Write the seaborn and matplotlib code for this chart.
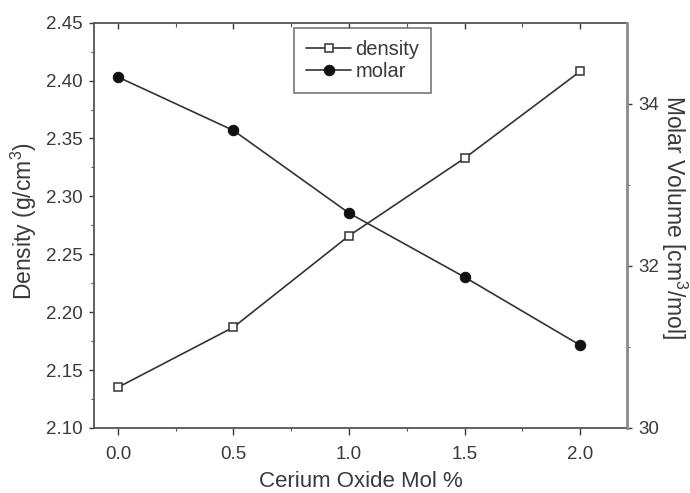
import matplotlib
matplotlib.use("Agg")
import matplotlib.pyplot as plt
import seaborn as sns
import pandas as pd
from matplotlib.ticker import MultipleLocator, FixedLocator

sns.set_theme(style="white")
plt.rcParams['font.family'] = ['Liberation Sans', 'DejaVu Sans']
plt.rcParams['mathtext.default'] = 'regular'

# Data
ceo2_mol = [0.0, 0.5, 1.0, 1.5, 2.0]
density = [2.135, 2.187, 2.266, 2.333, 2.408]
molar_volume = [34.33, 33.67, 32.65, 31.86, 31.02]

x_label = "Cerium Oxide Mol %"
y_left_label = "Density (g/cm$^3$)"
y_right_label = "Molar Volume [cm$^3$/mol]"

df = pd.DataFrame({"x": ceo2_mol, "density": density, "molar": molar_volume})

text_c = "#3a3a3a"
line_c = "#333333"

fig = plt.figure(figsize=(6.9, 4.93), dpi=100)
ax = fig.add_axes([0.136, 0.132, 0.773, 0.822])
ax2 = ax.twinx()

sns.lineplot(data=df, x="x", y="density", ax=ax, color=line_c, lw=1.2,
             marker="s", markersize=6, markerfacecolor="white",
             markeredgecolor=line_c, markeredgewidth=1.1, label="density",
             legend=False)
sns.lineplot(data=df, x="x", y="molar", ax=ax2, color=line_c, lw=1.2,
             marker="o", markersize=7.5, markerfacecolor="#111111",
             markeredgecolor="#111111", label="molar", legend=False)

ax.set_xlim(-0.104, 2.203)
ax.set_ylim(2.10, 2.45)
ax2.set_ylim(30, 35)

ax.xaxis.set_major_locator(FixedLocator([0.0, 0.5, 1.0, 1.5, 2.0]))
ax.xaxis.set_minor_locator(FixedLocator([0.25, 0.75, 1.25, 1.75]))
ax.set_xticklabels(["0.0", "0.5", "1.0", "1.5", "2.0"])
ax.yaxis.set_major_locator(MultipleLocator(0.05))
ax.yaxis.set_minor_locator(MultipleLocator(0.025))
ax.yaxis.set_major_formatter(matplotlib.ticker.FormatStrFormatter("%.2f"))
ax2.yaxis.set_major_locator(FixedLocator([30, 32, 34]))
ax2.yaxis.set_minor_locator(FixedLocator([31, 33]))

ax.set_xlabel(x_label, fontsize=16, color=text_c, labelpad=6)
ax.set_ylabel(y_left_label, fontsize=16.5, color=text_c, labelpad=5.5)
ax2.set_ylabel(y_right_label, fontsize=16.5, color=text_c, rotation=270,
               labelpad=21.5)
ax.yaxis.label.set_y(0.51)
ax2.yaxis.label.set_y(0.52)

ax.tick_params(axis="both", which="major", labelsize=13.5, colors=text_c,
               direction="out", length=3.8, width=1.0, pad=4)
ax.tick_params(axis="x", which="major", length=5, pad=8)
ax.tick_params(axis="both", which="minor", direction="out", length=2.5,
               width=0.8, colors="#555555")
ax.tick_params(axis="x", which="both", top=True, labeltop=False)
ax.tick_params(axis="y", which="both", left=True, right=False)
ax.tick_params(axis="x", which="both", bottom=True)
ax2.tick_params(axis="y", which="major", labelsize=13.5, colors=text_c,
                direction="out", length=3.8, width=1.0, pad=4)
ax2.tick_params(axis="y", which="minor", direction="out", length=2,
                width=0.8, colors="#777777")

# top ticks inward
for t in ax.xaxis.get_major_ticks():
    t.tick2line.set_marker(matplotlib.lines.TICKDOWN)
    t.tick2line.set_markersize(4.5)
for t in ax.xaxis.get_minor_ticks():
    t.tick2line.set_marker(matplotlib.lines.TICKDOWN)
    t.tick2line.set_markersize(3)

for sp in ["left", "bottom", "top"]:
    ax.spines[sp].set_color("#555555")
    ax.spines[sp].set_linewidth(1.3)
ax.spines["right"].set_visible(False)
for sp in ["left", "bottom", "top"]:
    ax2.spines[sp].set_visible(False)
ax2.spines["right"].set_color("#8a8a8a")
ax2.spines["right"].set_linewidth(2.0)

h1, l1 = ax.get_legend_handles_labels()
h2, l2 = ax2.get_legend_handles_labels()
leg = ax2.legend(h1 + h2, l1 + l2, loc="upper left",
                 bbox_to_anchor=(0.375, 0.987), fontsize=14.5, frameon=True,
                 fancybox=False, edgecolor="#555555", handlelength=2.25,
                 handletextpad=0.2, borderpad=0.6, labelspacing=0.15,
                 borderaxespad=0)
leg.get_frame().set_linewidth(1.2)
for t in leg.get_texts():
    t.set_color(text_c)

fig.savefig("out.png", dpi=100, facecolor="white")
